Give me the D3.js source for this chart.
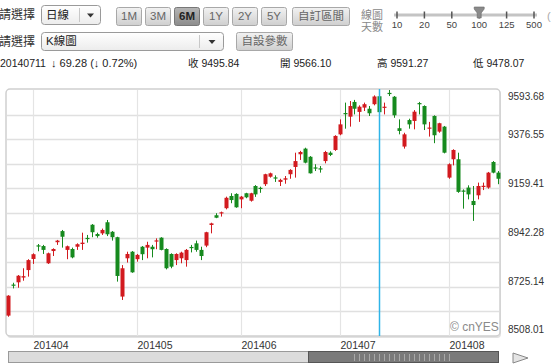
<!DOCTYPE html>
<html>
<head>
<meta charset="utf-8">
<script src="https://cdn.jsdelivr.net/npm/d3@7"></script>
<style>
  body { margin: 0; background: #fff; overflow: hidden; }
  svg text { font-family: "Liberation Sans", Arial, "Noto Sans CJK TC", sans-serif; }
</style>
</head>
<body>
<div id="chart"></div>
<script>
// trading days shown (6M view)
const dates = [
  "20140325","20140326","20140327","20140328","20140331",
  "20140401","20140402","20140403","20140407","20140408","20140409","20140410","20140411","20140414","20140415",
  "20140416","20140417","20140418","20140421","20140422","20140423","20140424","20140425","20140428","20140429","20140430",
  "20140502","20140505","20140506","20140507","20140508","20140509","20140512","20140513","20140514","20140515",
  "20140516","20140519","20140520","20140521","20140522","20140523","20140526","20140527","20140528","20140529","20140530",
  "20140603","20140604","20140605","20140606","20140609","20140610","20140611","20140612","20140613","20140616",
  "20140617","20140618","20140619","20140620","20140623","20140624","20140625","20140626","20140627","20140630",
  "20140701","20140702","20140703","20140704","20140707","20140708","20140709","20140710","20140711","20140714",
  "20140715","20140716","20140717","20140718","20140721","20140722","20140724","20140725","20140728","20140729",
  "20140730","20140731",
  "20140801","20140804","20140805","20140806","20140807","20140808","20140811","20140812","20140813","20140814","20140815"
];
const opens = [
  8598,8735,8745,8766,8799,8848,8908,8905,8829,8883,8922,8971,8888,8892,8902,8914,8941,8999,8958,8961,
  9010,8968,8944,8682,8851,8880,8847,8902,8898,8902,8927,8942,8892,8870,8843,8851,8843,8901,8917,8888,
  8907,8998,9041,9050,9072,9126,9135,9111,9138,9105,9170,9162,9178,9211,9208,9188,9198,9222,9254,9310,
  9335,9299,9252,9248,9280,9317,9329,9398,9492,9476,9541,9497,9516,9511,9531,9566.10,9516,9581,9564,9425,
  9344,9461,9457,9536,9523,9424,9479,9410,9432,9207,9288,9288,9150,9163,9104,9129,9168,9163,9276,9229
];
const highs = [
  8688,8743,8777,8807,8847,8873,8914,8910,8876,8895,8932,8976,8907,8898,8917,8964,8954,9002,8964,8982,
  9020,8971,8946,8821,8880,8883,8870,8905,8924,8910,8939,8944,8895,8873,8873,8880,8892,8910,8929,8902,
  8968,9008,9050,9057,9123,9138,9138,9126,9140,9140,9174,9167,9224,9229,9217,9202,9214,9244,9317,9325,
  9339,9302,9266,9258,9325,9323,9394,9464,9538,9545,9550,9526,9538,9523,9570,9591.27,9538,9593.68,9567,9464,
  9405,9467,9505,9541,9526,9453,9482,9449,9435,9270,9332,9317,9155,9173,9170,9185,9185,9232,9280,9236
];
const lows = [
  8593,8718,8721,8752,8770,8826,8882,8870,8826,8861,8910,8898,8847,8851,8888,8888,8920,8944,8942,8954,
  8949,8929,8748,8667,8832,8787,8836,8843,8851,8855,8891,8886,8802,8807,8821,8829,8814,8877,8880,8843,
  8900,8961,9028,9035,9067,9094,9074,9072,9116,9101,9122,9140,9170,9207,9188,9170,9180,9202,9207,9285,
  9270,9225,9236,9229,9270,9302,9325,9394,9423,9432,9486,9453,9501,9479,9526,9478.07,9486,9567,9471,9398,
  9335,9423,9420,9486,9417,9388,9359,9405,9314,9202,9261,9140,9070,9111,9016,9111,9152,9158,9226,9178
];
const closes = [
  8686,8731,8774,8772,8843,8869,8905,8888,8873,8892,8929,8946,8904,8855,8913,8920,8938,8966,8949,8976,
  8957,8944,8773,8807,8870,8789,8866,8869,8910,8891,8930,8888,8807,8814,8870,8876,8888,8898,8888,8861,
  8966,9005,9030,9054,9118,9108,9076,9123,9120,9138,9133,9159,9222,9226,9205,9197,9204,9241,9280,9320,
  9273,9226,9250,9245,9320,9307,9391,9442,9490,9523,9511,9520,9531,9491,9565.12,9495.84,9520,9578,9482,9413,
  9398,9442,9498,9533,9442,9428,9394,9447,9317,9266,9329,9144,9147,9133,9086,9170,9171,9229,9229,9202
];

const yLabels = [9593.68, 9376.55, 9159.41, 8942.28, 8725.14, 8508.01];
const monthLabels = ["201404", "201405", "201406", "201407", "201408"];
const rangeButtons = ["1M", "3M", "6M", "1Y", "2Y", "5Y"];
const dayTicks = ["10", "20", "50", "100", "125", "500"];
const selectedRange = "6M";
const selectedDays = "100";
const cursorDate = "20140711";
const infoTexts = ["20140711", "↓ 69.28 (↓ 0.72%)", "收 9495.84", "開 9566.10", "高 9591.27", "低 9478.07"];

const width = 553, height = 364;
const up = "#d21a1f", down = "#168a1e";

const svg = d3.select("#chart").append("svg")
    .attr("width", width)
    .attr("height", height);

const defs = svg.append("defs");
function grad(id, c1, c2) {
  const g = defs.append("linearGradient").attr("id", id)
      .attr("x1", 0).attr("y1", 0).attr("x2", 0).attr("y2", 1);
  g.append("stop").attr("offset", "0%").attr("stop-color", c1);
  g.append("stop").attr("offset", "100%").attr("stop-color", c2);
}
grad("btn", "#f2f2f2", "#cfcfcf");
grad("btnSel", "#b5b5b5", "#8c8c8c");
grad("sel", "#ffffff", "#ececec");

// ---- toolbar ----
const bar = svg.append("g");

function dropdown(x0, y0, w, h, label, sepX) {
  bar.append("rect").attr("x", x0 + 0.5).attr("y", y0 + 0.5).attr("width", w).attr("height", h)
      .attr("rx", 3).attr("fill", "url(#sel)").attr("stroke", "#9a9a9a");
  bar.append("line").attr("x1", sepX + 0.5).attr("x2", sepX + 0.5).attr("y1", y0 + 3).attr("y2", y0 + h - 2)
      .attr("stroke", "#c8c8c8");
  bar.append("text").attr("x", x0 + 5).attr("y", y0 + h - 5).attr("font-size", 11.5).attr("fill", "#222").text(label);
  const ax = sepX + (x0 + w - sepX) / 2 + 1, ay = y0 + h / 2 - 1;
  bar.append("path").attr("d", `M${ax - 3.5},${ay} L${ax + 3.5},${ay} L${ax},${ay + 4}Z`).attr("fill", "#333");
}

bar.append("text").attr("x", -1).attr("y", 19).attr("font-size", 12).attr("fill", "#333").text("請選擇");
bar.append("text").attr("x", -1).attr("y", 46).attr("font-size", 12).attr("fill", "#333").text("請選擇");
dropdown(41, 5, 59, 19, "日線", 79);
dropdown(41, 32, 182, 18, "K線圖", 199);

function button(x0, y0, w, h, label, selected) {
  bar.append("rect").attr("x", x0 + 0.5).attr("y", y0 + 0.5).attr("width", w).attr("height", h)
      .attr("rx", 2).attr("fill", selected ? "url(#btnSel)" : "url(#btn)")
      .attr("stroke", selected ? "#777" : "#a8a8a8");
  bar.append("text").attr("x", x0 + w / 2 + 0.5).attr("y", y0 + h - 5)
      .attr("text-anchor", "middle").attr("font-size", 11.5)
      .attr("font-weight", selected ? "bold" : "normal")
      .attr("fill", selected ? "#222" : "#666").text(label);
}

rangeButtons.forEach((b, i) => button(116 + i * 29, 7, 25, 18, b, b === selectedRange));
button(292, 7, 57, 18, "自訂區間", false);
button(236, 32, 56, 18, "自設參數", false);

// days slider
bar.append("text").attr("x", 361).attr("y", 19).attr("font-size", 11).attr("fill", "#888").text("線圖");
bar.append("text").attr("x", 361).attr("y", 31).attr("font-size", 11).attr("fill", "#888").text("天數");
const tickX = d3.scalePoint().domain(dayTicks).range([397, 534]);
bar.append("line").attr("x1", 394).attr("x2", 537).attr("y1", 15).attr("y2", 15)
    .attr("stroke", "#c4c4c4").attr("stroke-width", 3);
dayTicks.forEach(t => {
  bar.append("line").attr("x1", tickX(t)).attr("x2", tickX(t)).attr("y1", 11.5).attr("y2", 18.5)
      .attr("stroke", "#555").attr("stroke-width", 1.5);
  bar.append("text").attr("x", tickX(t)).attr("y", 28).attr("text-anchor", "middle")
      .attr("font-size", 9.5).attr("fill", "#444").text(t);
});
const mx = tickX(selectedDays);
bar.append("path").attr("d", `M${mx - 5},7 L${mx + 5},7 L${mx + 5},9 L${mx + 2},13 L${mx + 2},18 L${mx - 2},18 L${mx - 2},13 L${mx - 5},9Z`)
    .attr("fill", "#8a8a8a").attr("stroke", "#666").attr("stroke-width", 0.6);
bar.append("text").attr("x", 547).attr("y", 20).attr("font-size", 11).attr("fill", "#aaa").text("(");

// info row
const infoX = [0, 51, 188, 280, 377, 473];
infoTexts.forEach((t, i) => {
  bar.append("text").attr("x", infoX[i]).attr("y", 67).attr("font-size", i === 1 ? 11 : 10.5)
      .attr("fill", "#222").text(t);
});

// ---- chart ----
const plot = { left: 6, right: 500, top: 90, bottom: 336 };
const x = d3.scalePoint().domain(dates).range([8, 498]);
const y = d3.scaleLinear().domain([yLabels[5], yLabels[0]]).range([plot.bottom, plot.top]);

svg.append("rect").attr("x", plot.left + 1).attr("y", plot.top).attr("width", plot.right - plot.left)
    .attr("height", plot.bottom - plot.top + 2).attr("rx", 4).attr("fill", "#e2e2e2");
svg.append("rect").attr("x", plot.left).attr("y", plot.top - 1).attr("width", plot.right - plot.left)
    .attr("height", plot.bottom - plot.top + 1).attr("rx", 4).attr("fill", "#fff")
    .attr("stroke", "#cfcfcf").attr("stroke-width", 1.5);

const grid = svg.append("g");
const lo = yLabels[5], hi = yLabels[0];
d3.range(1, 10).forEach(k => {
  const gy = Math.round(y(lo + (hi - lo) * k / 10)) + 0.5;
  grid.append("line").attr("x1", plot.left + 1).attr("x2", plot.right - 1).attr("y1", gy).attr("y2", gy)
      .attr("stroke", "#e0e0e0").attr("stroke-width", 1.5);
});

const firstOfMonth = monthLabels.map(m => dates.find(d => d.startsWith(m)));
firstOfMonth.forEach((d, i) => {
  const gx = Math.round(x(d)) + 0.5;
  grid.append("line").attr("x1", gx).attr("x2", gx).attr("y1", plot.top).attr("y2", plot.bottom)
      .attr("stroke", "#e4e4e4").attr("stroke-width", 1.2);
  svg.append("text").attr("x", gx).attr("y", 349).attr("font-size", 10.5).attr("fill", "#333").text(monthLabels[i]);
});

yLabels.forEach((v, i) => {
  let ty = y(v) - 1.5;
  ty = Math.max(plot.top + 10, Math.min(plot.bottom - 3, ty));
  svg.append("text").attr("x", 508).attr("y", ty).attr("font-size", 10).attr("fill", "#333").text(v.toFixed(2));
});

svg.append("text").attr("x", 450).attr("y", 331).attr("font-size", 12).attr("fill", "#8a8a8a").text("© cnYES");

// candles: red = up, green = down
const candles = dates.map((d, i) => ({ date: d, o: opens[i], h: highs[i], l: lows[i], c: closes[i] }));
const cg = svg.append("g");

cg.selectAll("line.wick")
  .data(candles)
  .enter()
  .append("line")
  .attr("class", "wick")
  .attr("x1", d => Math.round(x(d.date)) + 0.5)
  .attr("x2", d => Math.round(x(d.date)) + 0.5)
  .attr("y1", d => y(d.h))
  .attr("y2", d => y(d.l))
  .attr("stroke", d => d.c >= d.o ? up : down);

cg.selectAll("rect.body")
  .data(candles)
  .enter()
  .append("rect")
  .attr("class", "body")
  .attr("x", d => Math.round(x(d.date)) - 1.5)
  .attr("width", 4)
  .attr("y", d => y(Math.max(d.o, d.c)))
  .attr("height", d => Math.max(1.2, Math.abs(y(d.o) - y(d.c))))
  .attr("fill", d => d.c >= d.o ? up : down);

// cursor line
const cx = Math.round(x(cursorDate)) + 0.5;
svg.append("line").attr("x1", cx).attr("x2", cx).attr("y1", plot.top - 1).attr("y2", plot.bottom)
    .attr("stroke", "#2fb4e8").attr("stroke-width", 1.5);

// ---- scroll bar ----
const sb = svg.append("g");
sb.append("rect").attr("x", 8.5).attr("y", 351.5).attr("width", 300).attr("height", 11)
    .attr("fill", "#dcdcdc").attr("stroke", "#9a9a9a");
sb.append("rect").attr("x", 308.5).attr("y", 351.5).attr("width", 190).attr("height", 11)
    .attr("fill", "#7a7a7a").attr("stroke", "#555");
d3.range(354, 452, 5).forEach(gx => {
  sb.append("line").attr("x1", gx + 0.5).attr("x2", gx + 0.5).attr("y1", 354).attr("y2", 361)
      .attr("stroke", "#a8a8a8");
});
sb.append("path").attr("d", "M513,353 L528,358 L513,363Z").attr("fill", "#e4e4e4").attr("stroke", "#888");
</script>
</body>
</html>
